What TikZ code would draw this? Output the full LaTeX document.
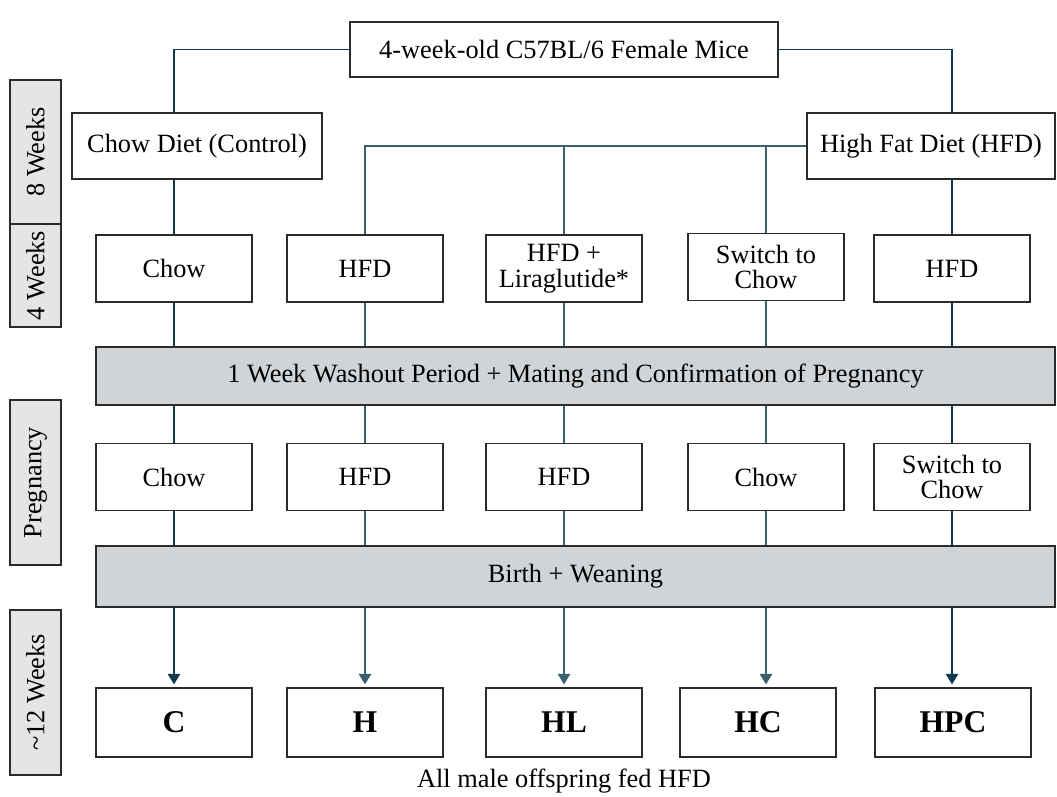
\documentclass[tikz,border=0pt]{standalone}
\usepackage{fontspec}
\setmainfont{Liberation Serif}
\usetikzlibrary{arrows.meta}
\definecolor{linedark}{HTML}{0F3A4D}
\definecolor{linelite}{HTML}{3A616D}
\definecolor{barfill}{HTML}{D0D4D7}
\definecolor{sidefill}{HTML}{E5E5E5}
\definecolor{edgegray}{HTML}{2B2B2B}
\tikzset{
  box/.style={draw=edgegray, line width=1.1pt, fill=white, align=center,
    minimum width=3.12cm, minimum height=1.34cm, inner sep=2pt,
    font=\fontsize{15}{14.5}\selectfont},
  bar/.style={box, fill=barfill, minimum width=19.18cm},
  side/.style={draw=edgegray, line width=1.1pt, fill=sidefill, rotate=90,
    minimum height=1.02cm, inner sep=2pt, font=\fontsize{15}{15}\selectfont},
  group/.style={box, font=\bfseries\fontsize{18}{18}\selectfont, minimum height=1.38cm},
  darkline/.style={draw=linedark, line width=1.1pt},
  liteline/.style={draw=linelite, line width=1.1pt}
}

\begin{document}
\begin{tikzpicture}[x=0.02cm, y=-0.02cm]
\useasboundingbox (0,0) rectangle (1057,796);
% time scale on the left
\begin{scope}[every node/.style={side}]
  \node[minimum width=2.88cm] (w8) at (35.5,152) {8 Weeks};
  \node[minimum width=2.06cm] (w4) at (35.5,275.5) {4 Weeks};
  \node[minimum width=3.30cm] (preg) at (35.5,482.5) {Pregnancy};
  \node[minimum width=3.30cm] (w12) at (35.5,692.5) {\textasciitilde12 Weeks};
\end{scope}
% diets
\node[box, minimum width=8.56cm, minimum height=1.1cm] (mice) at (564,49.5) {4-week-old C57BL/6 Female Mice};
\node[box, minimum width=5cm, minimum height=1.32cm] (chowdiet) at (197,146) {Chow Diet (Control)};
\node[box, minimum width=4.96cm, minimum height=1.32cm] (hfdiet) at (931,146) {High Fat Diet (HFD)};
% 4 weeks
\begin{scope}[every node/.style={box}]
  \node (c1) at (174,268.5) {Chow};
  \node (c2) at (365,268.5) {HFD};
  \node (c3) at (564,268.5) {HFD +\\ Liraglutide*};
  \node (c4) at (766,267) {Switch to\\ Chow};
  \node (c5) at (952,268.5) {HFD};
\end{scope}
\node[bar, minimum height=1.16cm] (wash) at (575.5,376) {1 Week Washout Period + Mating and Confirmation of Pregnancy};
% pregnancy
\begin{scope}[every node/.style={box}]
  \node (p1) at (174,477) {Chow};
  \node (p2) at (365,477) {HFD};
  \node (p3) at (564,477) {HFD};
  \node (p4) at (766,477) {Chow};
  \node (p5) at (952,477) {Switch to\\ Chow};
\end{scope}
\node[bar, minimum height=1.22cm] (birth) at (575.5,576.5) {Birth + Weaning};
% offspring
\begin{scope}[every node/.style={group}]
  \node (r1) at (174,722.5) {C};
  \node (r2) at (365,722.5) {H};
  \node (r3) at (564,722.5) {HL};
  \node (r4) at (758,722.5) {HC};
  \node (r5) at (953,722.5) {HPC};
\end{scope}
\node[font=\fontsize{15}{15}\selectfont] (note) at (564,781) {All male offspring fed HFD};

\draw[darkline] (mice.west) -| (c1.north |- chowdiet.north);
\draw[darkline] (mice.east) -| (c5.north |- hfdiet.north);
\draw[darkline] (chowdiet.south -| c1.north) -- (c1.north);
\draw[darkline] (hfdiet.south -| c5.north) -- (c5.north);
\draw[liteline] (hfdiet.west) -| (c2.north);
\draw[liteline] (hfdiet.west -| c3.north) -- (c3.north);
\draw[liteline] (hfdiet.west -| c4.north) -- (c4.north);
\foreach \i/\s in {1/darkline,2/liteline,3/liteline,4/liteline,5/darkline}{
  \draw[\s] (c\i.south) -- (c\i.south |- wash.north);
  \draw[\s] (wash.south -| p\i.north) -- (p\i.north);
  \draw[\s] (p\i.south) -- (p\i.south |- birth.north);
  \draw[\s, -{Triangle[width=7pt,length=6pt]}, shorten >=1.5pt] (birth.south -| p\i.south) -- (p\i.south |- r\i.north);
}
\end{tikzpicture}
\end{document}
